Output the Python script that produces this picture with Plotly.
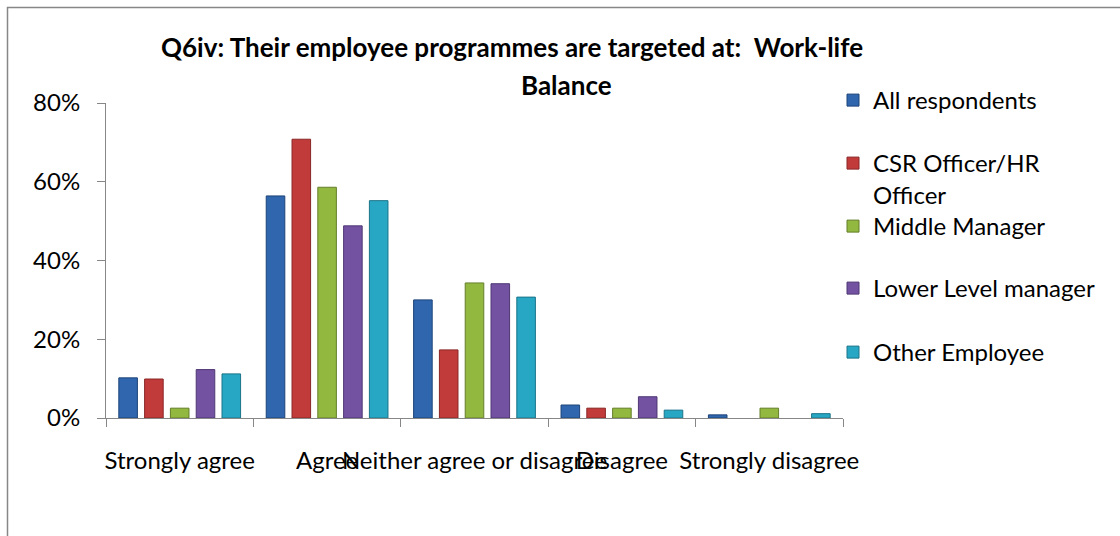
import plotly.graph_objects as go

# Survey answers (share of respondents) per respondent group
categories = ["Strongly agree", "Agree", "Neither agree or disagree", "Disagree", "Strongly disagree"]
series_names = ["All respondents", "CSR Officer/HR<br>Officer", "Middle Manager",
                "Lower Level manager", "Other Employee"]
all_respondents = [0.102, 0.564, 0.300, 0.033, 0.008]
csr_hr_officer = [0.099, 0.708, 0.173, 0.025, 0.0]
middle_manager = [0.025, 0.586, 0.343, 0.025, 0.025]
lower_level_manager = [0.123, 0.488, 0.341, 0.054, 0.0]
other_employee = [0.112, 0.552, 0.307, 0.020, 0.011]
y_ticks = [0, 0.2, 0.4, 0.6, 0.8]

series_values = [all_respondents, csr_hr_officer, middle_manager,
                 lower_level_manager, other_employee]
fills = ["#2F66AE", "#C23B3B", "#93B840", "#7352A2", "#28A7C4"]
edges = ["#1D4479", "#8A2626", "#647F2A", "#4F3774", "#1A7489"]

W, H = 1120, 536
L, R, T, B = 106, 843, 103, 418   # plot area in pixels
FONT = "Lato"
GREY = "#878787"


def px_x(x):
    return (x - L) / (R - L)


def px_y(y):
    return (B - y) / (B - T)


fig = go.Figure()
legend_ids = ["legend", "legend2", "legend3", "legend4", "legend5"]
for name, vals, fc, ec, lg in zip(series_names, series_values, fills, edges, legend_ids):
    fig.add_trace(go.Bar(
        x=categories, y=vals, name=name, legend=lg,
        # no outline on empty bars
        marker=dict(color=fc, line=dict(color=ec, width=[1 if v > 0 else 0 for v in vals])),
        hoverinfo="skip",
    ))

# one legend box per series so the entries sit at even spacing
legend_tops = [93, 156, 219, 281, 345]
layout_legends = {}
for lg, top in zip(legend_ids, legend_tops):
    layout_legends[lg] = dict(
        x=px_x(833), y=px_y(top - 15), xanchor="left", yanchor="top",
        bgcolor="rgba(0,0,0,0)", borderwidth=0, valign="top",
        font=dict(family=FONT, size=24, color="black"),
        itemclick=False, itemdoubleclick=False,
    )

fig.update_layout(
    width=W, height=H, autosize=False,
    margin=dict(l=L, r=W - R, t=T, b=H - B, pad=0),
    paper_bgcolor="white", plot_bgcolor="white",
    barmode="group", bargap=0.125, bargroupgap=0.28,
    font=dict(family=FONT, size=24, color="black"),
    showlegend=True,
    **layout_legends,
)

fig.update_xaxes(
    type="category", range=[-0.5, 4.5], tickson="boundaries",
    ticks="outside", ticklen=8, tickcolor=GREY, tickwidth=1,
    showline=True, linecolor=GREY, linewidth=1, showgrid=False,
    tickangle=0, ticklabelstandoff=21,
    tickfont=dict(family=FONT, size=24, color="black"),
)
fig.update_yaxes(
    range=[0, 0.8], tickvals=y_ticks, tickformat=".0%",
    ticks="outside", ticklen=8, tickcolor=GREY, tickwidth=1,
    showline=True, linecolor=GREY, linewidth=1, showgrid=False,
    zeroline=False, ticklabelstandoff=12,
    tickfont=dict(family=FONT, size=24, color="black"),
)

# chart title (two lines)
title_font = dict(family=FONT, size=26, color="black")
fig.add_annotation(
    text="<b>Q6iv: Their employee programmes are targeted at:  Work-life</b>",
    xref="paper", yref="paper", x=px_x(512), y=px_y(47), xanchor="center",
    yanchor="middle", showarrow=False, font=title_font,
)
fig.add_annotation(
    text="<b>Balance</b>",
    xref="paper", yref="paper", x=px_x(566), y=px_y(85), xanchor="center",
    yanchor="middle", showarrow=False, font=title_font,
)

# chart frame
fig.add_shape(
    type="rect", xref="paper", yref="paper",
    x0=px_x(7.5), y0=px_y(560), x1=px_x(1140), y1=px_y(7.5),
    line=dict(color=GREY, width=1.5), fillcolor="rgba(0,0,0,0)", layer="below",
)

fig.write_html("out.html")
